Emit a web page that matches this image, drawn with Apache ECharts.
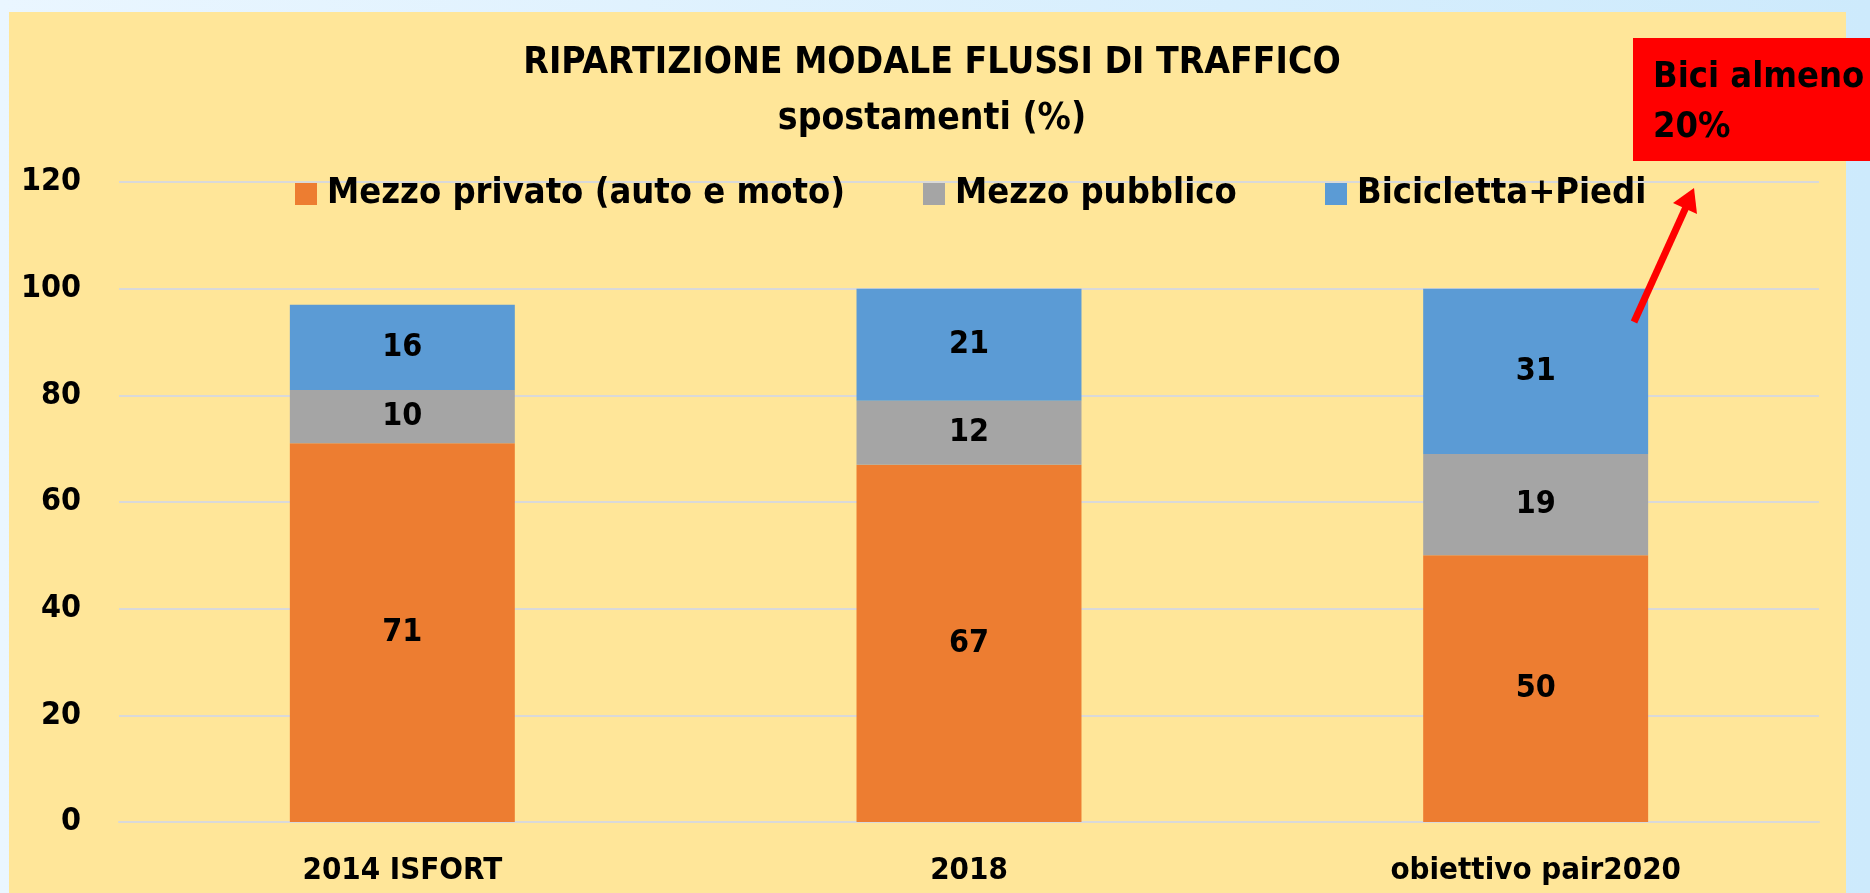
<!DOCTYPE html>
<html>
<head>
<meta charset="utf-8">
<title>Ripartizione modale flussi di traffico</title>
<script src="https://cdn.jsdelivr.net/npm/echarts@6/dist/echarts.min.js"></script>
<style>
  html, body {
    margin: 0;
    padding: 0;
    width: 1870px;
    height: 893px;
    overflow: hidden;
    background: linear-gradient(to right, #eaf6ff, #cdeafc);
  }
  #panel {
    position: absolute;
    left: 9px;
    top: 12px;
    width: 1837px;
    height: 881px;
    background: #ffe699;
  }
  #chart {
    position: absolute;
    left: 0;
    top: 0;
    width: 1870px;
    height: 893px;
  }
</style>
</head>
<body>
<div id="panel"></div>
<div id="chart"></div>
<script>
const categories = ["2014 ISFORT", "2018", "obiettivo pair2020"];
const seriesNames = ["Mezzo privato (auto e moto)", "Mezzo pubblico", "Bicicletta+Piedi"];
const privato = [71, 67, 50];
const pubblico = [10, 12, 19];
const biciPiedi = [16, 21, 31];
const yTicks = { min: 0, max: 120, interval: 20 };

const FONT = '"DejaVu Sans Condensed", "DejaVu Sans", sans-serif';

const chart = echarts.init(document.getElementById("chart"));

const barLabel = {
  show: true,
  position: "inside",
  color: "#000",
  fontFamily: FONT,
  fontWeight: "bold",
  fontSize: 32,
};

// one legend block per item so each sits where the original has it
const legendLefts = [290, 918, 1320];
const legends = seriesNames.map((name, i) => ({
  data: [name],
  left: legendLefts[i],
  top: 167,
  itemWidth: 22,
  itemHeight: 22,
  icon: "rect",
  textStyle: {
    color: "#000",
    fontFamily: FONT,
    fontWeight: "bold",
    fontSize: 36,
    lineHeight: 44,
    padding: [0, 0, 0, 5],
  },
}));

chart.setOption({
  backgroundColor: "transparent",
  animation: false,
  title: {
    text: "RIPARTIZIONE MODALE FLUSSI DI TRAFFICO\nspostamenti (%)",
    left: 927,
    top: 30,
    textAlign: "center",
    textStyle: {
      color: "#000",
      fontFamily: FONT,
      fontWeight: "bold",
      fontSize: 37,
      lineHeight: 56,
    },
  },
  legend: legends,
  grid: {
    left: 119,
    right: 51,
    top: 182,
    bottom: 71,
  },
  xAxis: {
    type: "category",
    data: categories,
    axisLine: { lineStyle: { color: "#d9d9d9", width: 2 } },
    axisTick: { show: false },
    axisLabel: {
      color: "#000",
      fontFamily: FONT,
      fontWeight: "bold",
      fontSize: 31,
      margin: 33,
    },
  },
  yAxis: {
    type: "value",
    min: yTicks.min,
    max: yTicks.max,
    interval: yTicks.interval,
    axisLine: { show: false },
    axisTick: { show: false },
    splitLine: { lineStyle: { color: "#d9d9d9", width: 2 } },
    axisLabel: {
      color: "#000",
      fontFamily: FONT,
      fontWeight: "bold",
      fontSize: 32,
      margin: 38,
    },
  },
  series: [
    {
      name: seriesNames[0],
      type: "bar",
      stack: "tot",
      barWidth: "39.7%",
      data: privato,
      itemStyle: { color: "#ed7d31" },
      label: barLabel,
    },
    {
      name: seriesNames[1],
      type: "bar",
      stack: "tot",
      data: pubblico,
      itemStyle: { color: "#a5a5a5" },
      label: barLabel,
    },
    {
      name: seriesNames[2],
      type: "bar",
      stack: "tot",
      data: biciPiedi,
      itemStyle: { color: "#5b9bd5" },
      label: barLabel,
    },
  ],
  // Red callout box and arrow
  graphic: [
    {
      type: "rect",
      shape: { x: 1633, y: 38, width: 240, height: 123 },
      style: { fill: "#ff0000" },
      z: 10,
    },
    {
      type: "text",
      x: 1653,
      y: 53,
      style: {
        text: "Bici almeno\n20%",
        fill: "#000",
        font: 'bold 36px "DejaVu Sans Condensed", "DejaVu Sans", sans-serif',
        lineHeight: 50,
      },
      z: 11,
    },
    {
      type: "line",
      shape: { x1: 1634, y1: 322, x2: 1686, y2: 207 },
      style: { stroke: "#ff0000", lineWidth: 7 },
      z: 10,
    },
    {
      type: "polygon",
      shape: { points: [[1694, 188], [1697, 214], [1673, 203]] },
      style: { fill: "#ff0000" },
      z: 10,
    },
  ],
});
</script>
</body>
</html>
